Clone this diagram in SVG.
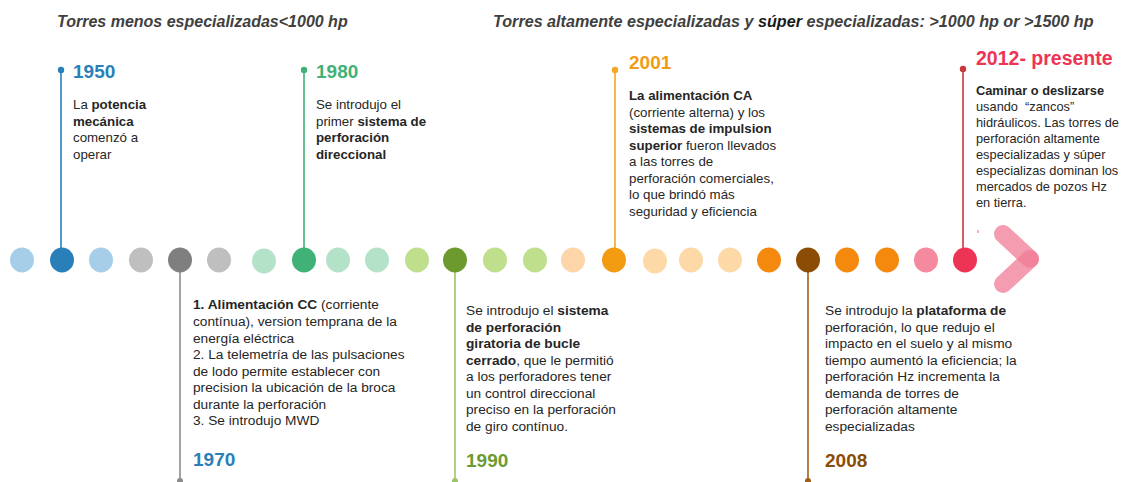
<svg xmlns="http://www.w3.org/2000/svg" width="1125" height="482" viewBox="0 0 1125 482">
<style>
text{font-family:"Liberation Sans",Arial,sans-serif;}
.hdr{font-size:16px;font-weight:bold;font-style:italic;fill:#404040;}
.yr{font-size:19px;font-weight:bold;}
.body{font-size:13.3px;fill:#262626;}
.low{font-size:13.7px;fill:#262626;}
.small{font-size:12.8px;fill:#262626;}
.b{font-weight:bold;}
.stem{stroke-width:1.6;fill:none;}
</style>
<rect width="1125" height="482" fill="#ffffff"/>

<g id="headers">
<text class="hdr" x="57" y="27">Torres menos especializadas&lt;1000 hp</text>
<text class="hdr" x="493" y="27" style="font-size:16.15px">Torres altamente especializadas y <tspan fill="#1a1a1a">súper</tspan> especializadas: &gt;1000 hp or &gt;1500 hp</text>
</g>

<g id="connectors">
<line class="stem" x1="61" y1="70" x2="61" y2="258" stroke="#2980B9"/>
<circle cx="61" cy="70" r="3.2" fill="#2980B9"/>
<line class="stem" x1="304" y1="70" x2="304" y2="258" stroke="#41B277"/>
<circle cx="304" cy="70" r="3.2" fill="#41B277"/>
<line class="stem" x1="615" y1="70" x2="615" y2="258" stroke="#F5A623"/>
<circle cx="615" cy="70" r="3.2" fill="#F5A623"/>
<line class="stem" x1="963" y1="69" x2="963" y2="258" stroke="#C8373B"/>
<circle cx="963" cy="69" r="3.2" fill="#C8373B"/>
<line class="stem" x1="180" y1="262" x2="180" y2="482" stroke="#8C8C8C"/>
<circle cx="180" cy="481" r="3" fill="#8C8C8C"/>
<line class="stem" x1="455" y1="262" x2="455" y2="482" stroke="#9DC46A"/>
<circle cx="455" cy="481" r="3" fill="#9DC46A"/>
<line class="stem" x1="808" y1="262" x2="808" y2="482" stroke="#A0601A"/>
<circle cx="808" cy="481" r="3" fill="#A0601A"/>
</g>

<g id="timeline-dots">
<ellipse cx="22" cy="260" rx="12" ry="12.5" fill="#A6CEE9"/>
<ellipse cx="62" cy="260" rx="12" ry="12.5" fill="#2980B9"/>
<ellipse cx="101" cy="260" rx="12" ry="12.5" fill="#A6CEE9"/>
<ellipse cx="141" cy="260" rx="12" ry="12.5" fill="#BFBFBF"/>
<ellipse cx="180" cy="260" rx="12" ry="12.5" fill="#7F7F7F"/>
<ellipse cx="219" cy="260" rx="12" ry="12.5" fill="#BFBFBF"/>
<ellipse cx="264" cy="261" rx="12" ry="12.5" fill="#B3E2C8"/>
<ellipse cx="304" cy="260" rx="12" ry="12.5" fill="#41B277"/>
<ellipse cx="338" cy="260" rx="12" ry="12.5" fill="#B3E2C8"/>
<ellipse cx="377" cy="260" rx="12" ry="12.5" fill="#B3E2C8"/>
<ellipse cx="417" cy="260" rx="12" ry="12.5" fill="#BFDF8D"/>
<ellipse cx="455" cy="260" rx="12" ry="12.5" fill="#6C9A2E"/>
<ellipse cx="495" cy="260" rx="12" ry="12.5" fill="#BFDF8D"/>
<ellipse cx="535" cy="260" rx="12" ry="12.5" fill="#BFDF8D"/>
<ellipse cx="573" cy="260" rx="12" ry="12.5" fill="#FDD5A8"/>
<ellipse cx="614" cy="260" rx="12" ry="12.5" fill="#F39C12"/>
<ellipse cx="655" cy="261" rx="12" ry="12.5" fill="#FCD9A6"/>
<ellipse cx="691" cy="260" rx="12" ry="12.5" fill="#FCD9A6"/>
<ellipse cx="730" cy="260" rx="12" ry="12.5" fill="#FCD9A6"/>
<ellipse cx="769" cy="260" rx="12" ry="12.5" fill="#F5890D"/>
<ellipse cx="808" cy="260" rx="12" ry="12.5" fill="#8B4C05"/>
<ellipse cx="847" cy="260" rx="12" ry="12.5" fill="#F5890D"/>
<ellipse cx="887" cy="260" rx="12" ry="12.5" fill="#F5890D"/>
<ellipse cx="926" cy="260" rx="12" ry="12.5" fill="#F5899E"/>
<ellipse cx="965" cy="260" rx="12" ry="12.5" fill="#EE3454"/>
<line x1="978" y1="230" x2="978" y2="233" stroke="#EE6380" stroke-width="1"/>
</g>

<g id="end-arrow" stroke="#F07C95" stroke-width="18" stroke-linecap="round" stroke-opacity="0.75" fill="none">
<line x1="1003" y1="234" x2="1030" y2="259"/>
<line x1="1003" y1="284" x2="1030" y2="259"/>
</g>

<g id="node-1950">
<text class="yr" x="73" y="78" fill="#2980B9">1950</text>
<text class="body" x="73" y="109">La <tspan class="b">potencia</tspan></text>
<text class="body b" x="73" y="125.5">mecánica</text>
<text class="body" x="73" y="142">comenzó a</text>
<text class="body" x="73" y="158.5">operar</text>
</g>

<g id="node-1980">
<text class="yr" x="316" y="78" fill="#41B277">1980</text>
<text class="body" x="316" y="109">Se introdujo el</text>
<text class="body" x="316" y="125.5">primer <tspan class="b">sistema de</tspan></text>
<text class="body b" x="316" y="142">perforación</text>
<text class="body b" x="316" y="158.5">direccional</text>
</g>

<g id="node-2001">
<text class="yr" x="629" y="69" fill="#F39C12">2001</text>
<text class="body b" x="629" y="100">La alimentación CA</text>
<text class="body" x="629" y="116.5">(corriente alterna) y los</text>
<text class="body b" x="629" y="133">sistemas de impulsion</text>
<text class="body" x="629" y="149.5"><tspan class="b">superior</tspan> fueron llevados</text>
<text class="body" x="629" y="166">a las torres de</text>
<text class="body" x="629" y="182.5">perforación comerciales,</text>
<text class="body" x="629" y="199">lo que brindó más</text>
<text class="body" x="629" y="215.5">seguridad y eficiencia</text>
</g>

<g id="node-2012">
<text class="yr" x="976" y="65" fill="#EE3454" style="font-size:19.5px">2012- presente</text>
<text class="small b" x="976" y="95">Caminar o deslizarse</text>
<text class="small" x="976" y="111" xml:space="preserve">usando  “zancos”</text>
<text class="small" x="976" y="127">hidráulicos. Las torres de</text>
<text class="small" x="976" y="143">perforación altamente</text>
<text class="small" x="976" y="159">especializadas y súper</text>
<text class="small" x="976" y="175">especializas dominan los</text>
<text class="small" x="976" y="191">mercados de pozos Hz</text>
<text class="small" x="976" y="207">en tierra.</text>
</g>

<g id="node-1970">
<text class="low" x="193" y="309"><tspan class="b">1. Alimentación CC</tspan> (corriente</text>
<text class="low" x="193" y="326">contínua), version temprana de la</text>
<text class="low" x="193" y="342.5">energía eléctrica</text>
<text class="low" x="193" y="359">2. La telemetría de las pulsaciones</text>
<text class="low" x="193" y="375.5">de lodo permite establecer con</text>
<text class="low" x="193" y="392">precision la ubicación de la broca</text>
<text class="low" x="193" y="408.5">durante la perforación</text>
<text class="low" x="193" y="425">3. Se introdujo MWD</text>
<text class="yr" x="193" y="466" fill="#2980B9">1970</text>
</g>

<g id="node-1990">
<text class="low" x="466" y="315">Se introdujo el <tspan class="b">sistema</tspan></text>
<text class="low b" x="466" y="331.5">de perforación</text>
<text class="low b" x="466" y="348">giratoria de bucle</text>
<text class="low" x="466" y="364.5"><tspan class="b">cerrado</tspan>, que le permitió</text>
<text class="low" x="466" y="381">a los perforadores tener</text>
<text class="low" x="466" y="397.5">un control direccional</text>
<text class="low" x="466" y="414">preciso en la perforación</text>
<text class="low" x="466" y="430.5">de giro contínuo.</text>
<text class="yr" x="466" y="467" fill="#6E9B2F">1990</text>
</g>

<g id="node-2008">
<text class="low" x="825" y="315">Se introdujo la <tspan class="b">plataforma de</tspan></text>
<text class="low" x="825" y="331.5">perforación, lo que redujo el</text>
<text class="low" x="825" y="348">impacto en el suelo y al mismo</text>
<text class="low" x="825" y="364.5">tiempo aumentó la eficiencia; la</text>
<text class="low" x="825" y="381">perforación Hz incrementa la</text>
<text class="low" x="825" y="397.5">demanda de torres de</text>
<text class="low" x="825" y="414">perforación altamente</text>
<text class="low" x="825" y="430.5">especializadas</text>
<text class="yr" x="825" y="467" fill="#8B4C05">2008</text>
</g>
</svg>
